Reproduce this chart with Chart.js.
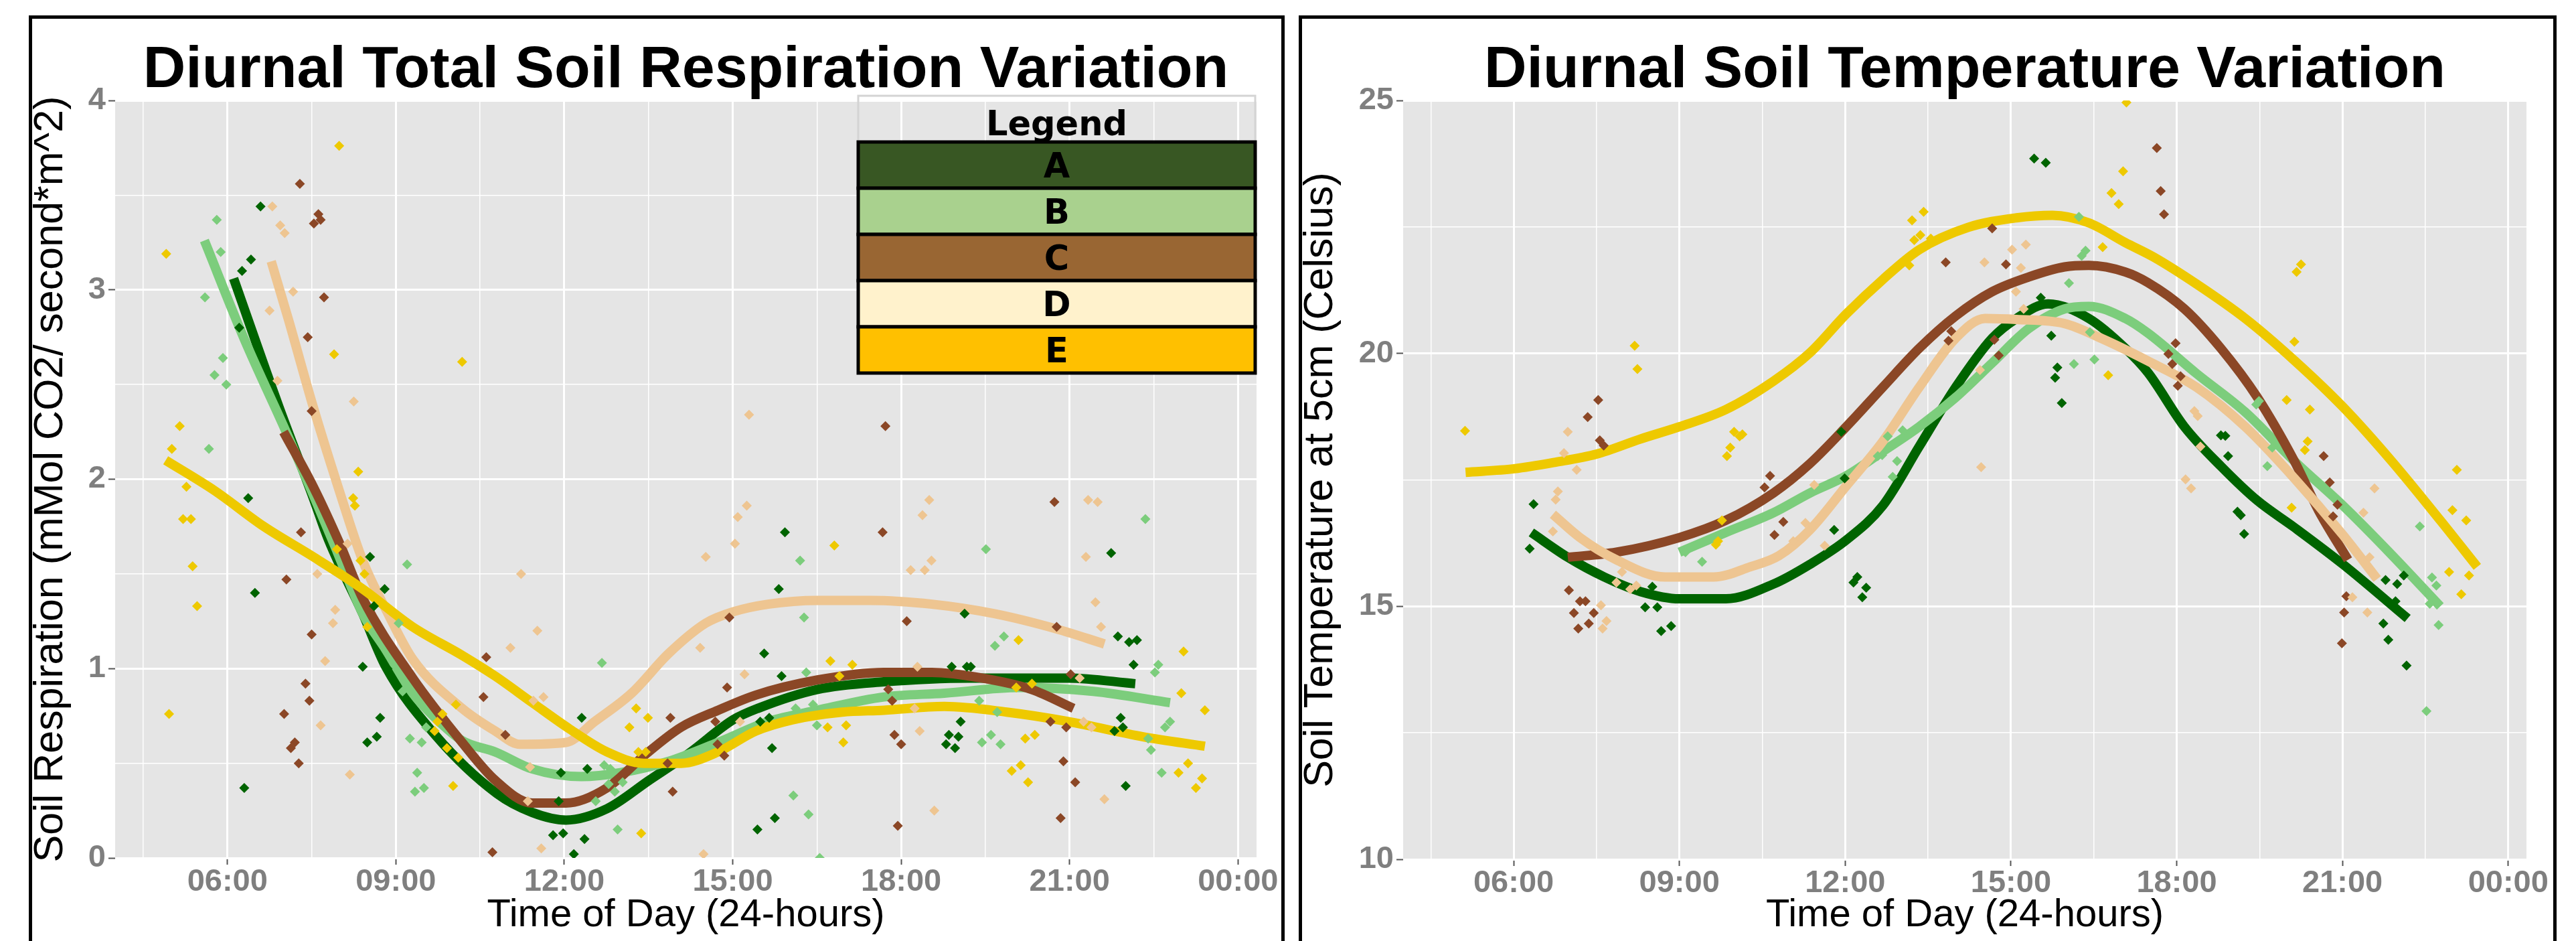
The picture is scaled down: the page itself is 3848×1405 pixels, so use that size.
<!DOCTYPE html>
<html>
<head>
<meta charset="utf-8">
<script src="https://cdn.jsdelivr.net/npm/chart.js@4.4.1/dist/chart.umd.min.js"></script>
<style>
  html, body { margin: 0; padding: 0; background: #fff; width: 3848px; height: 1405px; overflow: hidden; }
  .frame { position: absolute; border: 5px solid #000; box-sizing: border-box; }
  canvas { position: absolute; top: 0; }
</style>
</head>
<body>
<div class="frame" style="left:43px;top:23px;width:1876px;height:1500px"></div>
<div class="frame" style="left:1940px;top:23px;width:1879px;height:1500px"></div>
<canvas id="respChart" style="left:0" width="1924" height="1405"></canvas>
<canvas id="tempChart" style="left:1924px" width="1924" height="1405"></canvas>
<script>
// grid / tick positions
const hourTicks = [4.5, 6, 7.5, 9, 10.5, 12, 13.5, 15, 16.5, 18, 19.5, 21, 22.5, 24];
const respTicks = [0, 0.5, 1, 1.5, 2, 2.5, 3, 3.5, 4];
const tempTicks = [10, 12.5, 15, 17.5, 20, 22.5, 25];

const groupNames = ["A", "B", "C", "D", "E"];
const lineColors = ["#006400", "#7ccd7c", "#8b4726", "#eec591", "#eec900"];
const legendFills = ["#385723", "#a9d18e", "#996633", "#fff2cc", "#ffc000"];

// Soil respiration: measured points [hour, value]
const respPtsA = [[6.59,3.44],[6.42,3.16],[6.26,3.10],[6.21,2.80],[6.37,1.90],[6.49,1.40],[6.30,0.37],[8.54,1.59],[8.80,1.42],[8.61,1.33],[8.41,1.01],[8.85,1.00],[8.72,0.74],[8.66,0.64],[8.49,0.61],[12.31,0.74],[12.41,0.47],[11.94,0.45],[11.90,0.30],[11.80,0.12],[11.98,0.13],[12.36,0.10],[12.17,0.02],[15.93,1.72],[15.82,1.42],[15.56,1.08],[15.87,0.96],[15.49,0.72],[15.65,0.74],[15.70,0.58],[15.44,0.15],[15.75,0.21],[19.13,1.29],[21.74,1.61],[21.86,1.17],[22.06,1.14],[22.20,1.15],[22.14,1.02],[18.90,1.01],[19.17,1.01],[19.24,1.01],[19.06,0.72],[18.85,0.65],[19.02,0.64],[18.80,0.60],[18.96,0.58],[21.91,0.74],[21.95,0.69],[21.80,0.67],[22.00,0.38]];
const respPtsB = [[5.81,3.37],[5.88,3.20],[5.60,2.96],[5.92,2.64],[5.77,2.55],[5.98,2.50],[5.67,2.16],[9.20,1.55],[9.05,1.24],[9.12,0.88],[9.25,0.63],[9.46,0.61],[9.54,0.69],[9.38,0.45],[9.34,0.35],[9.50,0.37],[12.67,1.03],[12.71,0.49],[12.82,0.47],[12.79,0.39],[13.04,0.40],[12.90,0.35],[12.56,0.30],[12.95,0.15],[16.20,1.57],[16.27,1.27],[16.31,0.98],[16.12,0.79],[16.43,0.81],[16.50,0.70],[16.08,0.33],[16.35,0.23],[16.55,0.00],[19.51,1.63],[22.35,1.79],[19.83,1.17],[19.67,1.12],[22.58,1.02],[22.52,0.98],[19.39,0.83],[19.71,0.77],[22.79,0.72],[22.70,0.69],[19.60,0.65],[19.44,0.61],[19.77,0.60],[22.40,0.63],[22.45,0.57],[22.64,0.45]];
const respPtsC = [[7.29,3.56],[7.62,3.40],[7.66,3.37],[7.54,3.35],[7.72,2.96],[7.43,2.75],[7.50,2.36],[7.31,1.72],[7.05,1.47],[7.50,1.18],[7.39,0.92],[7.46,0.83],[7.01,0.76],[7.20,0.61],[7.13,0.58],[7.27,0.50],[10.61,1.06],[10.56,0.85],[10.72,0.03],[10.95,0.65],[13.89,0.74],[13.84,0.50],[13.93,0.35],[14.90,0.90],[14.69,0.72],[14.73,0.60],[14.85,0.54],[14.94,1.27],[17.72,2.28],[17.67,1.72],[18.10,1.25],[20.73,1.88],[20.77,1.22],[21.02,0.97],[17.77,0.89],[17.84,0.83],[17.88,0.65],[18.00,0.60],[20.66,0.72],[20.94,0.69],[20.89,0.51],[21.10,0.40],[17.94,0.17],[20.84,0.21]];
const respPtsD = [[6.80,3.44],[6.94,3.34],[7.02,3.30],[7.17,2.99],[6.75,2.89],[6.89,2.52],[8.25,2.41],[8.14,1.66],[7.60,1.50],[7.92,1.31],[7.88,1.24],[7.74,1.04],[7.66,0.70],[8.18,0.44],[15.29,2.34],[11.23,1.50],[15.09,1.80],[15.25,1.86],[15.04,1.66],[14.52,1.59],[11.52,1.20],[11.04,1.11],[11.63,0.85],[11.45,0.83],[14.42,1.11],[15.21,0.97],[15.13,0.72],[11.39,0.48],[11.35,0.30],[11.59,0.05],[14.48,0.02],[18.50,1.89],[18.38,1.81],[18.17,1.52],[18.42,1.52],[18.54,1.57],[21.33,1.89],[21.50,1.88],[21.29,1.59],[21.46,1.35],[21.56,1.22],[21.18,0.95],[18.29,1.01],[18.24,0.79],[18.33,0.67],[21.25,0.72],[21.39,0.69],[21.62,0.31],[18.59,0.25]];
const respPtsE = [[7.99,3.76],[4.91,3.19],[5.15,2.28],[5.01,2.16],[5.27,1.96],[5.21,1.79],[5.35,1.79],[5.38,1.54],[5.46,1.33],[4.96,0.76],[7.90,2.66],[8.33,2.04],[8.24,1.90],[8.27,1.86],[7.95,1.63],[8.37,1.57],[8.44,1.50],[8.49,1.22],[10.18,2.62],[10.07,0.81],[9.74,0.72],[9.83,0.76],[9.69,0.67],[9.91,0.58],[10.11,0.53],[10.02,0.38],[13.28,0.79],[13.49,0.74],[13.16,0.69],[13.32,0.56],[13.45,0.56],[13.37,0.13],[16.74,1.04],[17.13,1.02],[16.90,0.96],[16.69,0.69],[17.02,0.70],[16.97,0.61],[16.81,1.65],[20.09,1.15],[20.05,0.90],[20.33,0.92],[23.03,1.09],[22.99,0.87],[23.41,0.78],[20.21,0.63],[20.38,0.65],[20.13,0.49],[19.97,0.46],[20.26,0.40],[23.11,0.50],[22.94,0.45],[23.36,0.42],[23.25,0.37]];

// Soil respiration: smoothed trend
const respFitA = [[6.11,3.06],[6.92,2.38],[7.53,1.90],[7.8,1.68],[8.41,1.29],[8.82,1.01],[9.7,0.65],[10.8,0.34],[11.43,0.24],[12.03,0.20],[12.76,0.26],[13.51,0.41],[14.21,0.55],[15.01,0.73],[15.45,0.79],[16.51,0.89],[17.69,0.93],[19.22,0.95],[20.98,0.95],[22.17,0.92]];
const respFitB = [[5.59,3.26],[6.3,2.74],[7.09,2.22],[7.95,1.62],[8.41,1.29],[8.82,1.10],[9.3,0.87],[9.7,0.74],[10.18,0.62],[10.77,0.56],[11.43,0.47],[12.3,0.43],[13.0,0.45],[13.86,0.51],[14.74,0.61],[15.63,0.72],[16.51,0.78],[17.69,0.85],[18.77,0.87],[20.1,0.90],[21.42,0.88],[22.79,0.82]];
const respFitC = [[7.0,2.25],[7.53,1.96],[8.0,1.66],[8.41,1.37],[9.3,0.95],[10.18,0.61],[10.77,0.41],[11.43,0.29],[12.03,0.29],[12.76,0.37],[13.42,0.54],[14.08,0.69],[14.74,0.78],[15.41,0.86],[16.51,0.94],[17.69,0.98],[18.55,0.98],[19.44,0.95],[20.32,0.89],[21.07,0.79]];
const respFitD = [[6.78,3.15],[7.09,2.84],[7.53,2.38],[7.97,1.96],[8.41,1.57],[8.86,1.29],[9.3,1.05],[10.18,0.79],[10.77,0.67],[11.21,0.60],[12.03,0.61],[12.54,0.72],[13.2,0.87],[13.86,1.08],[14.52,1.24],[15.01,1.30],[15.63,1.34],[16.51,1.36],[17.45,1.36],[18.55,1.34],[19.66,1.29],[20.76,1.21],[21.62,1.13]];
const respFitE = [[4.9,2.10],[5.77,1.94],[6.65,1.75],[7.53,1.59],[8.41,1.42],[9.3,1.22],[10.18,1.07],[10.77,0.96],[11.43,0.82],[12.1,0.68],[12.76,0.56],[13.42,0.50],[14.08,0.50],[14.74,0.56],[15.41,0.67],[16.07,0.73],[16.95,0.77],[17.69,0.78],[18.77,0.80],[19.88,0.77],[20.98,0.72],[22.31,0.64],[23.41,0.59]];

// Soil temperature: measured points [hour, celsius]
const tempPtsA = [[6.36,17.02],[6.29,16.14],[8.51,15.39],[8.38,14.98],[8.60,14.98],[8.85,14.61],[8.67,14.51],[15.42,23.85],[15.63,23.77],[15.54,21.10],[15.73,20.35],[15.84,19.72],[15.80,19.52],[15.92,19.02],[11.93,18.45],[11.99,17.53],[11.80,16.51],[12.22,15.58],[12.15,15.47],[12.38,15.37],[12.31,15.18],[18.80,18.38],[18.88,18.37],[18.93,17.97],[19.10,16.87],[19.16,16.80],[19.22,16.43],[21.78,15.52],[21.99,15.44],[22.11,15.61],[21.96,15.10],[21.74,14.66],[21.83,14.34],[22.16,13.83]];
const tempPtsB = [[9.41,15.88],[9.11,16.07],[16.23,22.70],[16.35,22.03],[16.28,21.93],[16.05,21.39],[16.43,20.42],[16.14,19.79],[16.51,19.88],[12.77,18.36],[13.04,18.48],[12.67,17.99],[12.94,17.87],[12.86,17.56],[12.59,17.97],[19.44,18.99],[19.49,19.06],[19.64,17.77],[19.73,18.14],[22.40,16.58],[22.62,15.57],[22.70,15.41],[22.58,15.05],[22.74,14.63],[22.52,12.93]];
const tempPtsC = [[7.53,19.08],[7.34,18.74],[7.56,18.28],[7.63,18.18],[10.64,17.58],[10.54,17.35],[10.72,16.41],[10.88,16.67],[7.00,15.32],[7.20,15.10],[7.30,15.10],[7.09,14.87],[7.45,14.87],[7.36,14.66],[7.17,14.56],[14.66,22.47],[13.82,21.80],[14.91,21.76],[13.92,20.44],[13.87,20.25],[14.70,20.27],[14.78,19.96],[17.64,24.06],[17.71,23.21],[17.77,22.75],[17.98,20.20],[17.85,19.99],[17.92,19.79],[18.07,19.55],[18.02,19.36],[20.66,17.97],[20.77,17.45],[20.91,17.01],[20.83,16.78],[21.07,15.20],[21.03,14.88],[20.99,14.27]];
const tempPtsD = [[6.98,18.45],[6.91,18.03],[7.14,17.70],[6.80,17.27],[6.76,17.11],[6.71,16.48],[7.96,15.68],[7.86,15.47],[8.11,15.34],[8.22,15.41],[7.58,15.02],[7.68,14.71],[7.61,14.56],[15.02,22.05],[15.27,22.15],[14.52,21.80],[15.18,21.69],[15.09,21.22],[15.23,20.88],[14.44,19.67],[14.46,17.75],[11.44,17.40],[11.28,16.65],[11.41,16.60],[11.06,16.29],[11.63,16.20],[18.32,18.86],[18.38,18.76],[18.43,18.16],[18.16,17.51],[18.26,17.33],[21.58,17.33],[21.38,16.85],[21.49,15.97],[21.18,15.18],[21.45,14.88]];
const tempPtsE = [[5.12,18.47],[8.19,20.15],[8.24,19.69],[9.99,18.45],[10.14,18.40],[10.09,18.36],[9.92,18.14],[9.86,17.97],[9.77,16.70],[9.66,16.22],[9.70,16.29],[13.21,22.63],[13.42,22.80],[13.25,22.24],[13.36,22.34],[13.55,22.27],[13.16,21.74],[17.09,24.96],[17.03,23.60],[16.82,23.17],[16.95,22.95],[16.66,22.10],[16.76,19.57],[20.25,21.76],[20.17,21.61],[20.13,20.23],[19.99,19.08],[20.41,18.89],[20.37,18.26],[20.32,18.09],[20.08,16.95],[23.07,17.70],[22.99,16.90],[23.24,16.70],[22.93,15.68],[23.29,15.61],[23.15,15.24]];

// Soil temperature: smoothed trend
const tempFitA = [[6.32,16.46],[6.98,15.97],[7.64,15.58],[8.3,15.29],[9.0,15.15],[9.84,15.15],[10.7,15.44],[11.36,15.83],[12.02,16.31],[12.68,16.99],[13.34,18.16],[14.0,19.33],[14.66,20.30],[15.1,20.69],[15.67,20.98],[16.41,20.69],[17.07,20.10],[17.48,19.62],[18.14,18.55],[18.8,17.77],[19.46,17.09],[20.13,16.56],[21.01,15.83],[22.18,14.76]];
const tempFitB = [[9.0,16.07],[9.84,16.46],[10.7,16.85],[11.36,17.24],[12.02,17.58],[12.68,18.06],[13.34,18.55],[14.0,19.13],[14.66,19.81],[15.32,20.49],[15.97,20.88],[16.41,20.93],[17.07,20.69],[17.48,20.40],[18.36,19.60],[19.24,18.84],[20.13,17.87],[21.01,16.99],[21.89,16.02],[22.77,15.00]];
const tempFitC = [[6.98,15.97],[7.86,16.07],[9.0,16.36],[9.84,16.70],[10.7,17.24],[11.36,17.82],[12.02,18.55],[12.68,19.33],[13.34,20.10],[14.0,20.74],[14.66,21.22],[15.32,21.51],[15.97,21.71],[16.41,21.74],[17.07,21.61],[17.48,21.40],[18.14,20.88],[18.8,20.10],[19.46,19.13],[20.13,17.87],[20.57,16.89],[21.1,15.92]];
const tempFitD = [[6.71,16.82],[7.2,16.36],[7.86,15.92],[8.74,15.58],[9.62,15.58],[10.28,15.78],[10.8,16.00],[11.36,16.51],[12.02,17.38],[12.68,18.26],[13.34,19.33],[14.0,20.30],[14.53,20.69],[15.1,20.67],[15.97,20.59],[16.63,20.30],[17.48,19.85],[18.36,19.33],[19.24,18.55],[20.13,17.53],[21.01,16.41],[21.63,15.54]];
const tempFitE = [[5.13,17.65],[6.01,17.72],[6.76,17.85],[7.5,18.01],[8.3,18.31],[9.0,18.55],[9.84,18.89],[10.7,19.45],[11.36,20.01],[12.02,20.78],[12.68,21.46],[13.34,22.05],[14.22,22.49],[15.1,22.68],[15.75,22.73],[16.41,22.58],[17.07,22.19],[17.59,21.90],[18.36,21.37],[19.24,20.69],[20.13,19.86],[21.01,18.94],[21.89,17.87],[22.77,16.70],[23.44,15.78]];

const FONT = "'Liberation Sans', Arial, sans-serif";

// grey panel behind the grid, ggplot style
const panelBackground = {
  id: "panelBackground",
  beforeDraw(chart) {
    const { ctx, chartArea: a } = chart;
    ctx.save();
    ctx.fillStyle = "#e5e5e5";
    ctx.fillRect(a.left, a.top, a.right - a.left, a.bottom - a.top);
    ctx.restore();
  },
};

// boxed legend drawn in the top right of the respiration panel
const boxLegend = {
  id: "boxLegend",
  afterDraw(chart) {
    const { ctx, chartArea } = chart;
    const w = 593, head = 69, row = 69;
    const x0 = chartArea.right - w - 2;
    const y0 = chartArea.top - 7;
    ctx.save();
    ctx.strokeStyle = "#d4d4d4";
    ctx.lineWidth = 3;
    ctx.strokeRect(x0, y0, w, head + row * groupNames.length);
    ctx.textAlign = "center";
    ctx.textBaseline = "alphabetic";
    ctx.font = "bold 51px 'DejaVu Sans'";
    ctx.fillStyle = "#000";
    ctx.fillText("Legend", x0 + w / 2, y0 + 59);
    groupNames.forEach((name, i) => {
      const y = y0 + head + i * row;
      ctx.fillStyle = legendFills[i];
      ctx.fillRect(x0, y, w, row);
      ctx.strokeStyle = "#000";
      ctx.lineWidth = 5;
      ctx.strokeRect(x0, y, w, row);
      ctx.fillStyle = "#000";
      ctx.fillText(name, x0 + w / 2, y + row / 2 + 18);
    });
    ctx.restore();
  },
};

function buildDatasets(fits, points) {
  const sets = [];
  fits.forEach((fit, i) => {
    sets.push({
      type: "line",
      label: groupNames[i] + " trend",
      data: fit.map(([x, y]) => ({ x, y })),
      borderColor: lineColors[i],
      borderWidth: 14,
      pointRadius: 0,
      cubicInterpolationMode: "monotone",
      fill: false,
      order: 10 - i,
    });
  });
  points.forEach((pts, i) => {
    sets.push({
      type: "scatter",
      label: groupNames[i],
      data: pts.map(([x, y]) => ({ x, y })),
      backgroundColor: lineColors[i],
      borderWidth: 0,
      pointStyle: "rectRot",
      pointRadius: 7.5,
      order: 5 - i,
    });
  });
  return sets;
}

function makeChart(canvasId, cfg) {
  const tickFont = { family: FONT, size: 47, weight: "bold", lineHeight: 1 };
  return new Chart(document.getElementById(canvasId), {
    type: "scatter",
    data: { datasets: buildDatasets(cfg.fits, cfg.points) },
    options: {
      responsive: false,
      animation: false,
      layout: { padding: { left: 0, right: cfg.rightPad, top: 0, bottom: 0 } },
      plugins: {
        legend: { display: false },
        tooltip: { enabled: false },
        title: {
          display: true,
          text: cfg.title,
          fullSize: false,
          color: "#000",
          font: { family: FONT, size: 88, weight: "bold", lineHeight: 1 },
          padding: { top: 62, bottom: 0 },
        },
      },
      scales: {
        x: {
          type: "linear",
          min: 4,
          max: 24.33,
          afterBuildTicks: (axis) => { axis.ticks = hourTicks.map((value) => ({ value })); },
          afterFit: (scale) => { scale.height = cfg.xAxisHeight; },
          border: { display: false },
          grid: {
            color: "#ffffff",
            lineWidth: (c) => (c.tick && c.tick.value % 3 === 0 ? 3 : 1.5),
            tickLength: 10,
            tickWidth: 2,
            tickColor: (c) => (c.tick && c.tick.value % 3 === 0 ? "#555555" : "rgba(0,0,0,0)"),
          },
          ticks: {
            autoSkip: false,
            maxRotation: 0,
            padding: 3,
            color: "#7f7f7f",
            font: tickFont,
            callback: (v) => (v % 3 === 0 ? String(v % 24).padStart(2, "0") + ":00" : ""),
          },
          title: {
            display: true,
            text: "Time of Day (24-hours)",
            color: "#000",
            font: { family: FONT, size: 58, lineHeight: 1 },
            padding: { top: 0, bottom: 9 },
          },
        },
        y: {
          type: "linear",
          min: cfg.yMin,
          max: cfg.yMax,
          afterBuildTicks: (axis) => { axis.ticks = cfg.yTicks.map((value) => ({ value })); },
          afterFit: (scale) => { scale.width = 172; },
          border: { display: false },
          grid: {
            color: "#ffffff",
            lineWidth: (c) => (c.tick && cfg.isMajorY(c.tick.value) ? 3 : 1.5),
            tickLength: 10,
            tickWidth: 2,
            tickColor: (c) => (c.tick && cfg.isMajorY(c.tick.value) ? "#555555" : "rgba(0,0,0,0)"),
          },
          ticks: {
            autoSkip: false,
            padding: 4,
            color: "#7f7f7f",
            font: tickFont,
            callback: (v) => (cfg.isMajorY(v) ? String(v) : ""),
          },
          title: {
            display: true,
            text: cfg.yTitle,
            color: "#000",
            font: { family: FONT, size: 61, lineHeight: 1 },
            padding: { top: cfg.yTitlePad, bottom: 0 },
          },
        },
      },
    },
    plugins: cfg.extraPlugins,
  });
}

makeChart("respChart", {
  title: "Diurnal Total Soil Respiration Variation",
  yTitle: "Soil Respiration (mMol CO2/ second*m^2)",
  yMin: 0,
  yMax: 4,
  yTicks: respTicks,
  isMajorY: (v) => Number.isInteger(v),
  yTitlePad: 46,
  rightPad: 47,
  xAxisHeight: 124,
  fits: [respFitA, respFitB, respFitC, respFitD, respFitE],
  points: [respPtsA, respPtsB, respPtsC, respPtsD, respPtsE],
  extraPlugins: [panelBackground, boxLegend],
});

makeChart("tempChart", {
  title: "Diurnal Soil Temperature Variation",
  yTitle: "Soil Temperature at 5cm (Celsius)",
  yMin: 10,
  yMax: 25,
  yTicks: tempTicks,
  isMajorY: (v) => v % 5 === 0,
  yTitlePad: 19,
  rightPad: 74,
  xAxisHeight: 122,
  fits: [tempFitA, tempFitB, tempFitC, tempFitD, tempFitE],
  points: [tempPtsA, tempPtsB, tempPtsC, tempPtsD, tempPtsE],
  extraPlugins: [panelBackground],
});
</script>
</body>
</html>
